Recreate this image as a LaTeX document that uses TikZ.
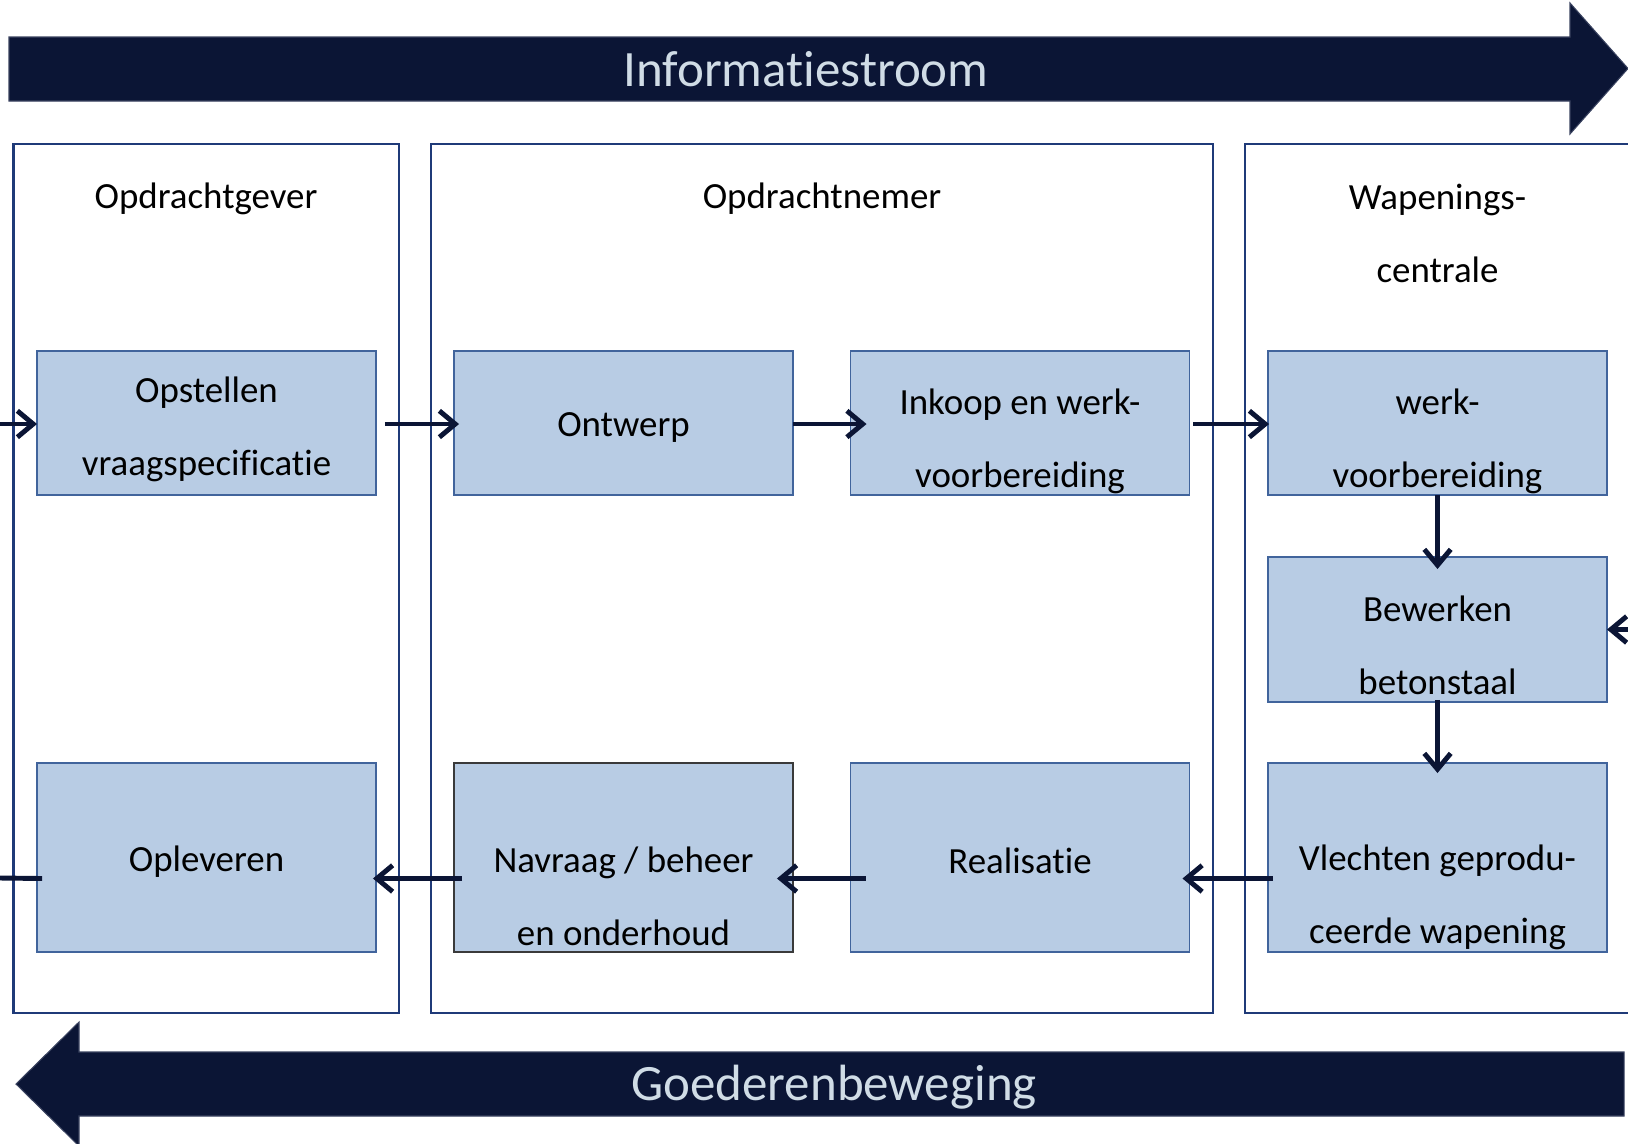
\documentclass[tikz,border=0pt]{standalone}
\usepackage{fontspec}
\setmainfont{Carlito}[Ligatures = {NoCommon, NoContextual, NoRequired}, Contextuals = NoAlternate]
\usepackage{xcolor}
\usetikzlibrary{arrows.meta}
\definecolor{vnavy}{HTML}{0B1535}
\definecolor{vedge}{HTML}{3A4360}
\definecolor{vframe}{HTML}{1F3A78}
\definecolor{vbox}{HTML}{B8CCE4}
\definecolor{vboxline}{HTML}{41649C}
\definecolor{vdark}{HTML}{3A3A3A}
\definecolor{vtitle}{HTML}{D0DCE6}
\begin{document}
\begin{tikzpicture}[x = 0.02cm, y = -0.02cm,
		lane/.style = {draw = vframe, line width = 1.4pt},
		stepbox/.style = {draw = vboxline, fill = vbox, line width = 0.9pt, inner sep = 0pt, outer sep = 0pt, minimum width = 6.78cm},
		steptext/.style = {align = center, font = \fontsize{21}{41.5}\selectfont, inner sep = 0pt},
		flow/.style = {draw = vnavy, line width = 2.8pt, -{Straight Barb[length = 9pt, width = 15pt]}},
		link/.style = {draw = vnavy, line width = 2.8pt},
		bigarrow/.style = {fill = vnavy, draw = vedge, line width = 0.6pt},
		bigtext/.style = {text = vtitle, font = \fontsize{29}{34}\selectfont, anchor = base, inner sep = 0pt}]
		\useasboundingbox (0,0) rectangle (1628,1143);
		\draw[bigarrow] (9,37) -- (1570,37) -- (1570,3) -- (1628,68.5) -- (1570,134) -- (1570,101) -- (9,101) -- cycle;
		\draw[bigarrow] (1624,1052) -- (79,1052) -- (79,1022) -- (16,1084) -- (79,1146) -- (79,1116) -- (1624,1116) -- cycle;
		\node[bigtext] (info) at (806,86) {Informatiestroom};
		\node[bigtext] (goed) at (834,1100) {Goederenbeweging};
		\draw[lane] (13.5,144) rectangle (399,1013);
		\draw[lane] (431,144) rectangle (1213,1013);
		\draw[lane] (1640,144) -- (1245,144) -- (1245,1013) -- (1640,1013);
		\node[steptext] (gever) at (206,199) {Opdrachtgever};
		\node[steptext] (nemer) at (822,199) {Opdrachtnemer};
		\node[steptext] (centrale) at (1437.5,233) {Wapenings-\\centrale};
		\node[stepbox, minimum height = 2.88cm] (ops) at (206.5,423) {};
		\node[stepbox, minimum height = 2.88cm] (ontw) at (623.5,423) {};
		\node[stepbox, minimum height = 2.88cm] (ink) at (1020,423) {};
		\node[stepbox, minimum height = 2.88cm] (werk) at (1437.5,423) {};
		\node[stepbox, minimum height = 2.9cm] (bew) at (1437.5,629.5) {};
		\node[stepbox, minimum height = 3.78cm] (vle) at (1437.5,857.5) {};
		\node[stepbox, minimum height = 3.78cm] (real) at (1020,857.5) {};
		\node[stepbox, minimum height = 3.78cm, draw = vdark] (nav) at (623.5,857.5) {};
		\node[stepbox, minimum height = 3.78cm] (opl) at (206.5,857.5) {};
		\node[steptext] (ops-t) at (206.5,429) {Opstellen\\vraagspecificatie};
		\node[steptext] (ontw-t) at (623.5,427) {Ontwerp};
		\node[steptext] (ink-t) at (1020,441) {Inkoop en werk-\\voorbereiding};
		\node[steptext] (werk-t) at (1437.5,441) {werk-\\voorbereiding};
		\node[steptext] (bew-t) at (1437.5,645) {Bewerken\\betonstaal};
		\node[steptext] (vle-t) at (1437.5,897) {Vlechten geprodu-\\ceerde wapening};
		\node[steptext] (real-t) at (1020,861) {Realisatie};
		\node[steptext] (nav-t) at (623.5,896) {Navraag / beheer\\en onderhoud};
		\node[steptext] (opl-t) at (206.5,862) {Opleveren};
		\coordinate (inL) at (0,424);
		\coordinate (inR) at (1628,629.5);
		\coordinate (outL) at (0,878);
		\draw[flow] (inL) -- ([shift={(0,1)}]ops.west);
		\draw[flow] ([shift={(9,1)}]ops.east) -- ([shift={(5,1)}]ontw.west);
		\draw[flow] ([shift={(0,1)}]ontw.east) -- ([shift={(16,1)}]ink.west);
		\draw[flow] ([shift={(4,1)}]ink.east) -- ([shift={(1,1)}]werk.west);
		\draw[flow] (werk.south) -- ([shift={(0,12)}]bew.north);
		\draw[flow] (inR) -- (bew.east);
		\draw[flow] ([shift={(0,-2)}]bew.south) -- ([shift={(0,10)}]vle.north);
		\draw[flow] ([shift={(5,21)}]vle.west) -- ([shift={(-7,21)}]real.east);
		\draw[flow] ([shift={(15,21)}]real.west) -- ([shift={(-16,21)}]nav.east);
		\draw[flow] ([shift={(8,21)}]nav.west) -- ([shift={(-3,21)}]opl.east);
		\draw[link] ([shift={(5,21)}]opl.west) -- (outL);
	\end{tikzpicture}
\end{document}
